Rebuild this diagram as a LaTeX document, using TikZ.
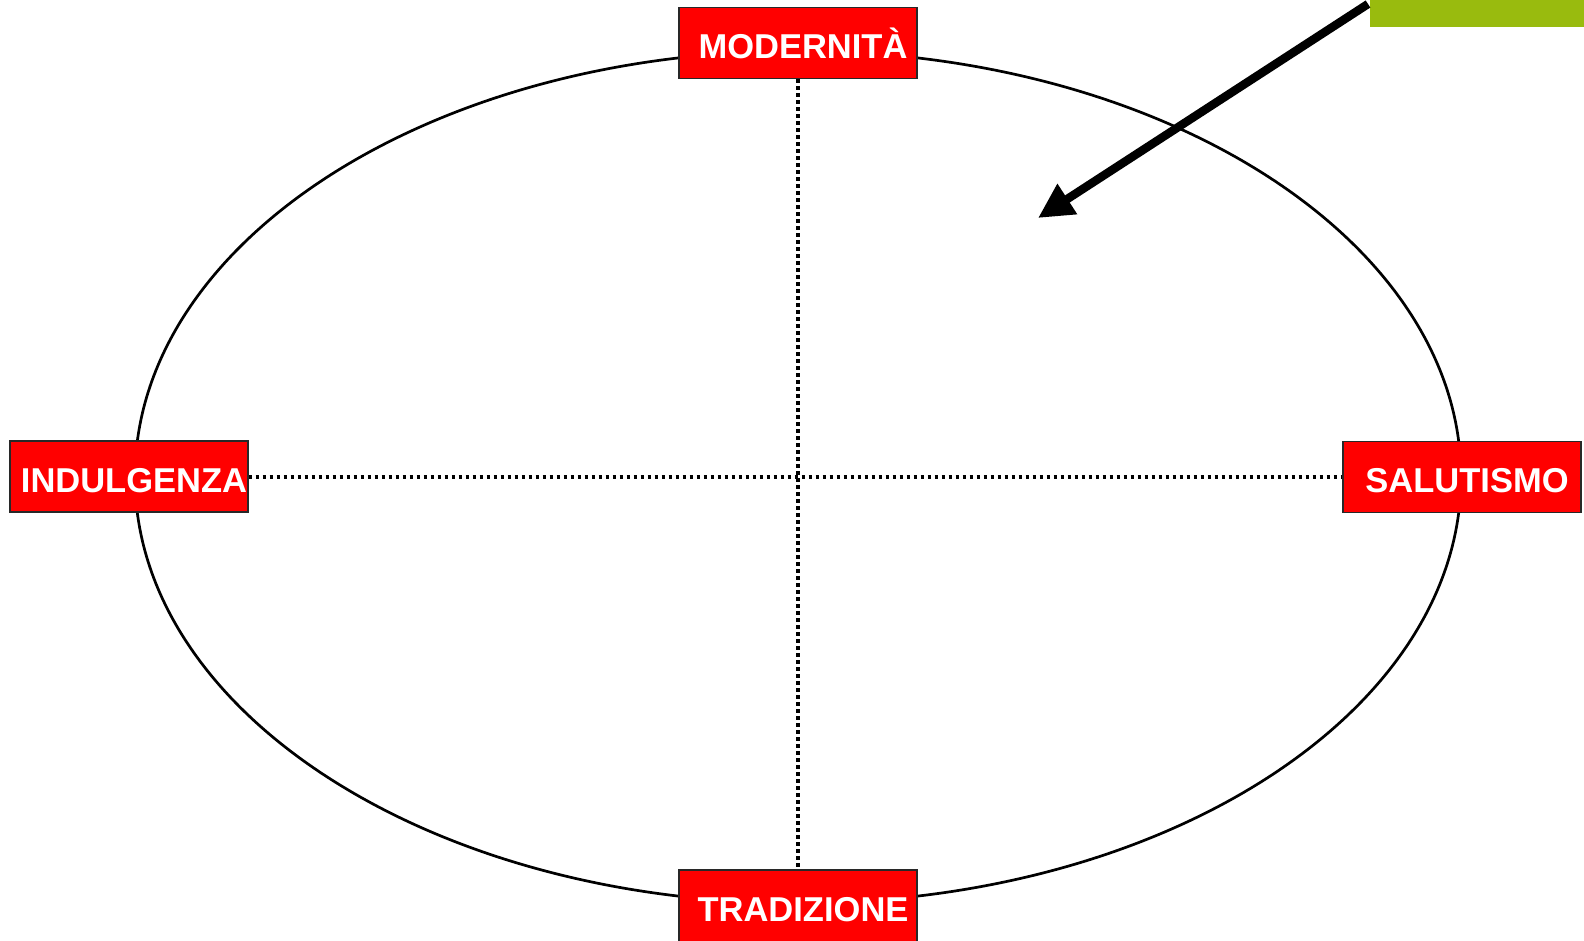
\documentclass[tikz,border=0pt]{standalone}
\usepackage{fontspec}
\setmainfont{Liberation Sans}
\usetikzlibrary{arrows.meta}
\definecolor{boxred}{RGB}{255,0,0}
\definecolor{boxedge}{RGB}{40,40,40}
\definecolor{leafgreen}{RGB}{153,187,14}
\begin{document}
\begin{tikzpicture}[x=1pt,y=-1pt,
  label box/.style={draw=boxedge, line width=1.2pt, fill=boxred, text=white,
    font=\fontsize{34.5}{40}\selectfont\bfseries, minimum width=238pt, minimum height=71pt,
    text height=31pt, text depth=0pt,
    inner sep=0pt, anchor=center},
  axis line/.style={line width=3.6pt, dash pattern=on 3.6pt off 3.4pt},
  ring/.style={line width=2.7pt}]
\useasboundingbox (0,0) rectangle (1584,940);
\fill[white] (0,0) rectangle (1584,940);
% ellipse
\coordinate (c) at (798,477);
\draw[ring] (c) ellipse [x radius=663, y radius=426];
% nodes
\node[label box] (mod) at (798,43) {\hspace*{10pt}MODERNITÀ};
\node[label box] (ind) at (129,476.5) {\hspace*{10pt}INDULGENZA};
\node[label box] (sal) at (1462,477) {\hspace*{10pt}SALUTISMO};
\node[label box, minimum height=72pt] (tra) at (798,906) {\hspace*{10pt}TRADIZIONE};
% axes
\draw[axis line] (ind.east |- c) -- (sal.west |- c);
\draw[axis line] (mod.south) -- (tra.north);
% redraw boxes on top
\node[label box] at (798,43) {\hspace*{10pt}MODERNITÀ};
\node[label box] at (129,476.5) {\hspace*{10pt}INDULGENZA};
\node[label box] at (1462,477) {\hspace*{10pt}SALUTISMO};
\node[label box, minimum height=72pt] at (798,906) {\hspace*{10pt}TRADIZIONE};
% green box and arrow
\fill[leafgreen] (1370,0) rectangle (1584,27);
\node[inner sep=0pt, minimum size=0pt] (green) at (1368,4) {};
\coordinate (tip) at (1038,218);
\draw[line width=8.5pt, -{Triangle[length=35pt,width=34pt]}] (green.center) -- (tip);
\end{tikzpicture}
\end{document}
